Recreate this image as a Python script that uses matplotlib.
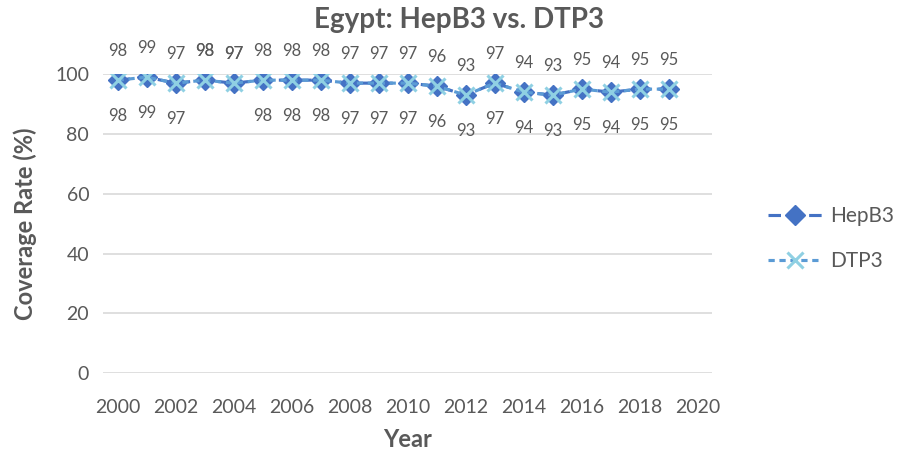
import matplotlib.pyplot as plt

years = list(range(2000, 2020))
hepb3 = [98, 99, 97, 98, 97, 98, 98, 98, 97, 97, 97, 96, 93, 97, 94, 93, 95, 94, 95, 95]
dtp3 = [98, 99, 97, 98, 97, 98, 98, 98, 97, 97, 97, 96, 93, 97, 94, 93, 95, 94, 95, 95]
dtp3_label_above = [2003, 2004]

plt.rcParams['font.family'] = ['Lato', 'DejaVu Sans']
grey = '#595959'

fig = plt.figure(figsize=(9.04, 4.55), dpi=100)
ax = fig.add_axes([0.114, 0.180, 0.674, 0.657])

ax.plot(years, hepb3, color='#4472C4', linestyle=(0, (4, 2.5)), linewidth=2.25,
        marker='D', markersize=10, label='HepB3')
ax.plot(years, dtp3, color='#5B9BD5', linestyle=(0, (2, 1.5)), linewidth=2.25,
        marker='x', markersize=11, markeredgewidth=2.2,
        markeredgecolor='#8FD0E3', label='DTP3')

for x, y in zip(years, hepb3):
    ax.annotate(str(y), (x, y), xytext=(0, 15), textcoords='offset points',
                ha='center', va='bottom', fontsize=12, color=grey)
for x, y in zip(years, dtp3):
    if x in dtp3_label_above:
        ax.annotate(str(y), (x, y), xytext=(0, 15), textcoords='offset points',
                    ha='center', va='bottom', fontsize=12, color=grey)
    else:
        ax.annotate(str(y), (x, y), xytext=(0, -20), textcoords='offset points',
                    ha='center', va='top', fontsize=12, color=grey)

ax.set_xlim(1999.5, 2020.5)
ax.set_ylim(0, 100)
ax.set_xticks(range(2000, 2021, 2))
ax.set_yticks(range(0, 101, 20))
ax.grid(axis='y', color='#D9D9D9', linewidth=1.2)
ax.set_axisbelow(True)
for s in ax.spines.values():
    s.set_visible(False)
ax.tick_params(axis='y', length=0, labelsize=14, labelcolor=grey, pad=10)
ax.tick_params(axis='x', length=0, labelsize=14, labelcolor=grey, pad=19)

fig.text(0.508, 0.955, 'Egypt: HepB3 vs. DTP3', fontsize=20, fontweight='bold',
         color=grey, ha='center', va='center')
ax.set_xlabel('Year', fontsize=17, fontweight='bold', color=grey, labelpad=8)
ax.set_ylabel('Coverage Rate (%)', fontsize=17, fontweight='bold', color=grey, labelpad=13)

leg = ax.legend(loc='center left', bbox_to_anchor=(1.06, 0.45), frameon=False,
                fontsize=15, handlelength=2.6, handletextpad=0.4, labelspacing=1.2)
for t in leg.get_texts():
    t.set_color(grey)

plt.savefig('out.png', dpi=100)
